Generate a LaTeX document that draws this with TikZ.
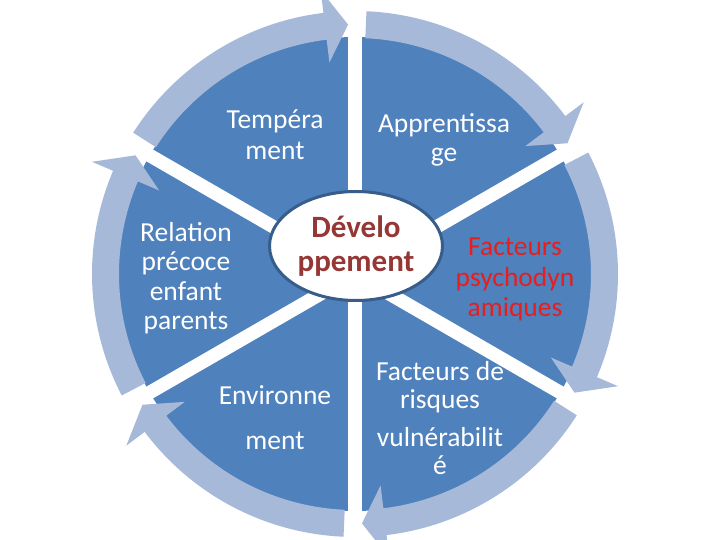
\documentclass[tikz,border=0pt]{standalone}
\usepackage{fontspec}
\setmainfont{Carlito}
\usetikzlibrary{shapes.geometric}
\definecolor{secblue}{HTML}{4F81BD}
\definecolor{ringblue}{HTML}{A7B9D8}
\definecolor{ellborder}{HTML}{385D8A}
\definecolor{devred}{HTML}{953735}
\definecolor{facred}{HTML}{E61E1E}
\begin{document}
\begin{tikzpicture}[x=1pt,y=1pt,
  sectortext/.style={text=white, font=\fontsize{27.5}{30}\selectfont, align=center, inner sep=0pt, anchor=base},
  redtext/.style={sectortext, text=facred},
  gapband/.style={white, line width=13.5pt},
  ringarrow/.style={fill=ringblue},
  centreoval/.style={draw=ellborder, line width=3pt, fill=white, ellipse, minimum width=173pt, minimum height=109pt, inner sep=0pt, text=devred, font=\fontsize{31}{34}\selectfont\bfseries, align=center}]
\useasboundingbox (0,0) rectangle (720,540);
\coordinate (C) at (355,266);
\fill[secblue] (C) circle[radius=237pt];
\foreach \g in {90,30,-30,-90,-150,150} {
  \draw[gapband] (C) -- ++(\g:245pt);
}
\foreach \g in {90,30,-30,-90,-150,150} {
  \pgfmathsetmacro\as{\g-2.5}
  \pgfmathsetmacro\at{\g-60+1.6}
  \pgfmathsetmacro\ab{\at+5.3}
  \path[ringarrow, shift={(C)}] (\as:236pt) arc[start angle=\as, end angle=\ab, radius=236pt]
    -- (\ab:213pt) -- (\at:249.5pt) -- (\ab:286pt) -- (\ab:263pt)
    arc[start angle=\ab, end angle=\as, radius=263pt] -- cycle;
}
\node[centreoval] (dev) at (356,294) {Dévelo\\ppement};
\node[sectortext, font=\fontsize{27.5}{31}\selectfont] (temp) at (275,380) {Tempéra\\ment};
\node[sectortext, font=\fontsize{27.5}{29}\selectfont] (appr) at (444,378) {Apprentissa\\ge};
\node[sectortext, font=\fontsize{27.5}{29.5}\selectfont] (rel) at (186,210) {Relation\\précoce\\enfant\\parents};
\node[redtext, font=\fontsize{27.5}{30.5}\selectfont] (psy) at (515,223) {Facteurs\\psychodyn\\amiques};
\node[sectortext] (env) at (275,90) {Environne\\[15pt]ment};
\node[sectortext, font=\fontsize{27.5}{28}\selectfont] (risk) at (440,131) {Facteurs de\\risques};
\node[sectortext, font=\fontsize{27.5}{28}\selectfont] (vuln) at (440,65) {vulnérabilit\\é};
\end{tikzpicture}
\end{document}
